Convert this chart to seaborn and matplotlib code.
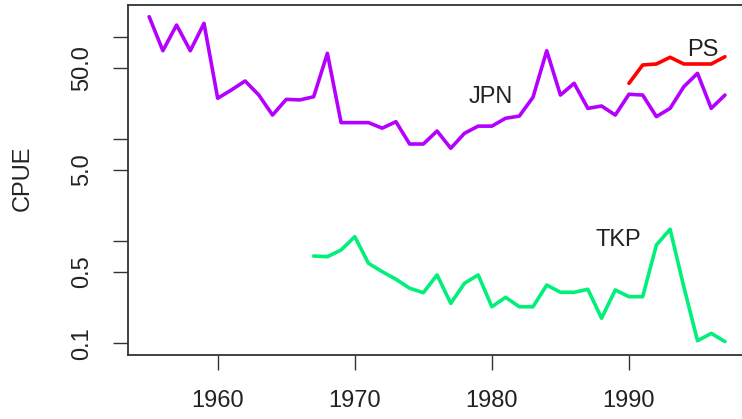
import numpy as np
import pandas as pd
import matplotlib
matplotlib.use("Agg")
import matplotlib.pyplot as plt
import seaborn as sns

# Catch-per-unit-effort series by fleet
jpn_years = list(range(1955, 1998))
jpn_cpue = [158, 73.4, 131, 73.4, 136, 25.1, 30.3, 37.1, 27.0, 17.2,
            24.5, 24.2, 26.0, 69.2, 14.5, 14.5, 14.5, 12.8, 14.8, 8.95,
            8.95, 12.0, 8.13, 11.4, 13.4, 13.4, 16.0, 16.8, 25.7, 73.4,
            27.0, 35.2, 20.0, 21.1, 17.2, 27.5, 27.0, 16.6, 20.0, 32.6,
            44.1, 20.0, 27.0]

ps_years = list(range(1990, 1998))
ps_cpue = [35.2, 53.2, 54.4, 63.3, 54.4, 54.4, 54.4, 64.1]

tkp_years = list(range(1967, 1998))
tkp_cpue = [0.716, 0.705, 0.820, 1.107, 0.607, 0.503, 0.424, 0.346, 0.313,
            0.467, 0.246, 0.387, 0.467, 0.228, 0.282, 0.228, 0.228, 0.372,
            0.316, 0.316, 0.338, 0.176, 0.333, 0.286, 0.286, 0.918, 1.308,
            0.358, 0.106, 0.125, 0.104]

fleets = ["JPN", "PS", "TKP"]
fleet_colors = ["#B400FF", "#FF0000", "#00F07A"]

y_ticks = [0.1, 0.5, 1, 5, 10, 50, 100]
y_tick_labels = ["0.1", "0.5", "", "5.0", "", "50.0", ""]
x_ticks = [1960, 1970, 1980, 1990]

df = pd.concat([
    pd.DataFrame({"year": jpn_years, "cpue": jpn_cpue, "fleet": "JPN"}),
    pd.DataFrame({"year": ps_years, "cpue": ps_cpue, "fleet": "PS"}),
    pd.DataFrame({"year": tkp_years, "cpue": tkp_cpue, "fleet": "TKP"}),
], ignore_index=True)

sns.set_style("white")
plt.rcParams["font.family"] = ["Liberation Sans", "DejaVu Sans"]

W, H = 742, 419
fig = plt.figure(figsize=(W / 100, H / 100), dpi=100)
left_px, right_px, top_px, bottom_px = 127.5, 745.5, 5, 355
ax = fig.add_axes([left_px / W, 1 - bottom_px / H,
                   (right_px - left_px) / W, (bottom_px - top_px) / H])

sns.lineplot(data=df, x="year", y="cpue", hue="fleet", hue_order=fleets,
             palette=dict(zip(fleets, fleet_colors)), linewidth=2.6,
             legend=False, ax=ax, estimator=None)

ax.set_yscale("log")
ax.set_xlim(1953.42, 1998.5)
ax.set_ylim(0.0768, 205.8)

ax.set_yticks(y_ticks)
ax.set_yticklabels(y_tick_labels, rotation=90, va="center")
ax.yaxis.set_minor_locator(matplotlib.ticker.NullLocator())
ax.set_xticks(x_ticks)
ax.set_xticklabels([str(t) for t in x_ticks])

edge = "#333333"
for side in ["left", "bottom", "top"]:
    ax.spines[side].set_visible(True)
    ax.spines[side].set_color(edge)
    ax.spines[side].set_linewidth(1.3)
ax.spines["right"].set_visible(False)

ax.tick_params(axis="both", which="major", length=11, width=1.0,
               color=edge, labelsize=17, labelcolor="#222222",
               direction="out", left=True, bottom=True)
ax.tick_params(axis="x", pad=14)
ax.tick_params(axis="y", pad=14)

ax.set_xlabel("")
ax.set_ylabel("")
fig.text(23 / W, 1 - 178 / H, "CPUE", fontsize=17, color="#222222",
         rotation=90, ha="center", va="center")

ax.text(1979.9, 26.0, "JPN", fontsize=17, color="#222222", ha="center", va="center")
ax.text(1995.4, 74.6, "PS", fontsize=17, color="#222222", ha="center", va="center")
ax.text(1989.2, 1.03, "TKP", fontsize=17, color="#222222", ha="center", va="center")

fig.savefig("out.png", dpi=100)
